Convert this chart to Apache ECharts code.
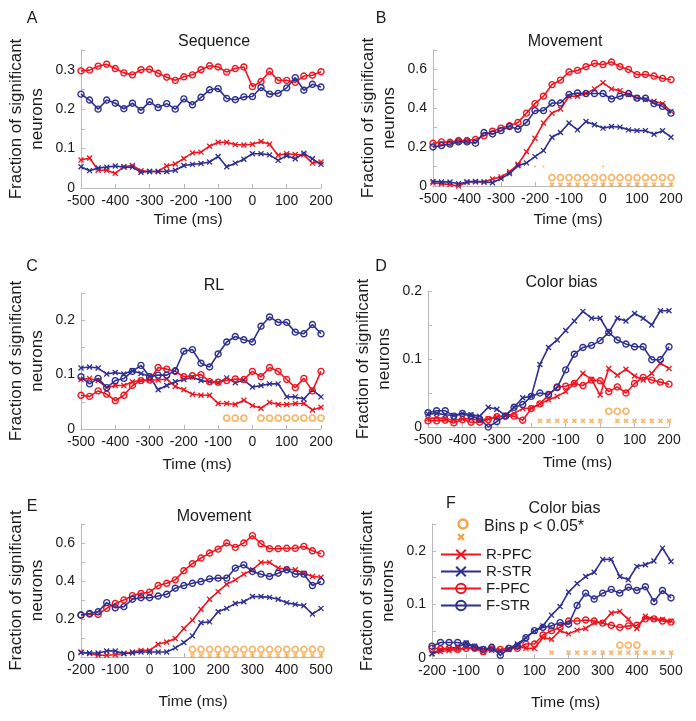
<!DOCTYPE html>
<html>
<head>
<meta charset="utf-8">
<script src="https://cdn.jsdelivr.net/npm/echarts@6/dist/echarts.min.js"></script>
<style>
  html, body { margin: 0; padding: 0; background: #fff; }
  #chart { width: 696px; height: 721px; }
</style>
</head>
<body>
<div id="chart"></div>
<script>
// time bins (ms)
const timeCue = [-500,-475,-450,-425,-400,-375,-350,-325,-300,-275,-250,-225,-200,-175,-150,-125,-100,-75,-50,-25,0,25,50,75,100,125,150,175,200];
const timeMove = [-200,-175,-150,-125,-100,-75,-50,-25,0,25,50,75,100,125,150,175,200,225,250,275,300,325,350,375,400,425,450,475,500];

// A - Sequence
const seqRPFC = [0.071,0.076,0.045,0.045,0.037,0.054,0.057,0.044,0.042,0.042,0.056,0.061,0.075,0.089,0.091,0.106,0.116,0.116,0.110,0.109,0.111,0.118,0.111,0.083,0.087,0.085,0.084,0.063,0.066];
const seqRSTR = [0.054,0.044,0.051,0.053,0.056,0.053,0.053,0.040,0.042,0.042,0.042,0.045,0.057,0.060,0.062,0.066,0.080,0.054,0.063,0.073,0.087,0.087,0.084,0.070,0.082,0.074,0.088,0.074,0.060];
const seqFPFC = [0.297,0.299,0.309,0.314,0.303,0.292,0.287,0.300,0.301,0.291,0.281,0.273,0.282,0.287,0.300,0.310,0.307,0.294,0.303,0.307,0.257,0.270,0.296,0.273,0.273,0.268,0.284,0.286,0.295];
const seqFSTR = [0.238,0.223,0.200,0.223,0.215,0.201,0.215,0.197,0.219,0.204,0.214,0.200,0.226,0.211,0.230,0.249,0.252,0.227,0.224,0.231,0.232,0.255,0.238,0.240,0.254,0.280,0.248,0.263,0.256];

// B - Movement (cue aligned)
const movRPFC = [0.016,0.012,0.007,0.000,0.021,0.021,0.021,0.036,0.047,0.073,0.112,0.176,0.246,0.324,0.375,0.396,0.462,0.462,0.476,0.500,0.531,0.500,0.491,0.471,0.453,0.445,0.436,0.424,0.384];
const movRSTR = [0.024,0.021,0.021,0.012,0.021,0.024,0.021,0.017,0.038,0.064,0.104,0.119,0.151,0.182,0.251,0.275,0.324,0.289,0.332,0.315,0.298,0.306,0.303,0.289,0.285,0.285,0.266,0.284,0.251];
const movFPFC = [0.220,0.227,0.225,0.234,0.234,0.240,0.258,0.282,0.298,0.310,0.327,0.375,0.424,0.462,0.522,0.545,0.587,0.595,0.614,0.631,0.625,0.638,0.614,0.600,0.573,0.574,0.566,0.554,0.547];
const movFSTR = [0.201,0.208,0.216,0.227,0.227,0.220,0.275,0.268,0.285,0.306,0.292,0.327,0.388,0.388,0.427,0.427,0.471,0.479,0.476,0.476,0.476,0.448,0.462,0.476,0.452,0.452,0.424,0.410,0.375];

// C - RL
const rlRPFC = [0.091,0.093,0.089,0.076,0.080,0.080,0.087,0.089,0.090,0.090,0.092,0.078,0.072,0.064,0.062,0.062,0.047,0.047,0.045,0.053,0.043,0.038,0.049,0.045,0.045,0.047,0.047,0.035,0.040];
const rlRSTR = [0.112,0.114,0.112,0.101,0.104,0.101,0.107,0.102,0.097,0.072,0.080,0.087,0.091,0.095,0.089,0.087,0.085,0.094,0.085,0.090,0.077,0.080,0.083,0.083,0.059,0.059,0.055,0.072,0.059];
const rlFPFC = [0.062,0.060,0.070,0.064,0.052,0.062,0.080,0.089,0.090,0.113,0.110,0.106,0.096,0.098,0.100,0.087,0.086,0.089,0.092,0.091,0.106,0.096,0.113,0.106,0.091,0.076,0.093,0.070,0.106];
const rlFSTR = [0.096,0.083,0.093,0.076,0.089,0.093,0.106,0.117,0.096,0.099,0.099,0.107,0.143,0.146,0.121,0.114,0.138,0.160,0.170,0.164,0.160,0.189,0.206,0.196,0.196,0.178,0.175,0.192,0.175];

// D - Color bias (cue aligned)
const colRPFC = [0.012,0.014,0.012,0.010,0.012,0.012,0.010,0.012,0.015,0.016,0.020,0.027,0.028,0.034,0.040,0.045,0.052,0.064,0.079,0.070,0.047,0.086,0.076,0.085,0.075,0.069,0.079,0.094,0.086];
const colRSTR = [0.019,0.020,0.018,0.017,0.020,0.018,0.016,0.029,0.026,0.017,0.029,0.043,0.045,0.092,0.117,0.128,0.142,0.156,0.170,0.160,0.160,0.139,0.160,0.156,0.167,0.160,0.150,0.171,0.171];
const colFPFC = [0.009,0.009,0.010,0.006,0.011,0.007,0.007,0.011,0.015,0.016,0.016,0.010,0.027,0.034,0.047,0.059,0.060,0.064,0.061,0.069,0.068,0.052,0.059,0.050,0.064,0.073,0.069,0.066,0.063];
const colFSTR = [0.021,0.024,0.024,0.016,0.020,0.016,0.012,0.000,0.008,0.016,0.029,0.033,0.045,0.050,0.048,0.058,0.084,0.107,0.117,0.120,0.127,0.139,0.128,0.122,0.118,0.118,0.099,0.099,0.118];

// E - Movement (movement aligned)
const mov2RPFC = [0.026,0.018,0.009,0.009,0.012,0.018,0.026,0.035,0.035,0.067,0.079,0.097,0.150,0.194,0.251,0.304,0.344,0.383,0.406,0.436,0.459,0.498,0.498,0.468,0.462,0.459,0.441,0.424,0.420];
const mov2RSTR = [0.023,0.021,0.021,0.032,0.032,0.018,0.021,0.026,0.026,0.026,0.026,0.048,0.076,0.111,0.180,0.185,0.238,0.256,0.282,0.291,0.318,0.318,0.314,0.304,0.286,0.277,0.270,0.226,0.256];
const mov2FPFC = [0.221,0.226,0.224,0.256,0.282,0.300,0.323,0.335,0.341,0.376,0.388,0.406,0.454,0.491,0.521,0.547,0.568,0.600,0.577,0.600,0.639,0.596,0.570,0.570,0.572,0.572,0.582,0.559,0.544];
const mov2FSTR = [0.221,0.229,0.238,0.286,0.259,0.265,0.304,0.312,0.312,0.321,0.330,0.362,0.376,0.388,0.397,0.411,0.415,0.415,0.468,0.485,0.450,0.436,0.424,0.441,0.459,0.436,0.436,0.376,0.397];

// F - Color bias (movement aligned)
const col2RPFC = [0.008,0.012,0.014,0.016,0.020,0.018,0.011,0.016,0.014,0.016,0.022,0.018,0.018,0.038,0.035,0.051,0.045,0.052,0.055,0.066,0.066,0.084,0.087,0.072,0.055,0.078,0.073,0.072,0.069];
const col2RSTR = [0.008,0.016,0.018,0.020,0.028,0.022,0.017,0.015,0.012,0.018,0.026,0.038,0.050,0.060,0.080,0.096,0.123,0.139,0.152,0.160,0.184,0.184,0.152,0.146,0.171,0.174,0.181,0.205,0.180];
const col2FPFC = [0.018,0.017,0.018,0.016,0.018,0.018,0.012,0.017,0.016,0.018,0.018,0.026,0.026,0.043,0.051,0.057,0.069,0.069,0.071,0.069,0.065,0.061,0.057,0.060,0.061,0.073,0.073,0.069,0.067];
const col2FSTR = [0.022,0.029,0.029,0.029,0.026,0.020,0.016,0.020,0.005,0.018,0.022,0.038,0.051,0.057,0.060,0.066,0.063,0.098,0.121,0.110,0.121,0.128,0.121,0.132,0.126,0.133,0.105,0.126,0.112];

// significant bins (p < 0.05): circles = F, crosses = R
const sigBCirc = [-150,-125,-100,-75,-50,-25,0,25,50,75,100,125,150,175,200];
const sigBCross = [-150,-125,-100,-75,-50,-25,0,25,50,75,100,125,150,175,200];
const sigBDot = [-200,-175,0];
const sigCCirc = [-75,-50,-25,25,50,75,100,125,150,175,200];
const sigCCross = [];
const sigDCirc = [25,50,75];
const sigDCross = [-175,-150,-125,-100,-75,-50,-25,0,50,75,100,125,150,175,200];
const sigECirc = [125,150,175,200,225,250,275,300,325,350,375,400,425,450,475,500];
const sigECross = [125,150,175,200,225,250,275,300,325,350,375,400,425,450,475,500];
const sigFCirc = [350,375,400];
const sigFCross = [150,200,225,250,275,300,325,350,375,400,425,450,475,500];

const RED = '#f0141e', BLUE = '#2d2f91', ORANGE = '#f5a547';
const XPATH = 'path://M0,0L10,10M10,0L0,10';
const names = ['R-PFC','R-STR','F-PFC','F-STR'];

const panels = [
  { letter:'A', title:'Sequence', time:timeCue, xMin:-500, xMax:200, yMax:0.35, yStep:0.05, lblStep:0.1,
    lines:[seqRPFC,seqRSTR,seqFPFC,seqFSTR], sig:[[],[],0.045,0.005],
    grid:{left:81,top:50,width:240,height:138}, titleY:38, letterXY:[27,15], nameGap:24, nameShift:-13 },
  { letter:'B', title:'Movement', time:timeCue, xMin:-500, xMax:200, yMax:0.7, yStep:0.1, lblStep:0.2,
    lines:[movRPFC,movRSTR,movFPFC,movFSTR], sig:[sigBCirc,sigBCross,0.043,0.007],
    grid:{left:433,top:50,width:238,height:136}, titleY:38, letterXY:[376,15], nameGap:26, nameShift:16 },
  { letter:'C', title:'RL', time:timeCue, xMin:-500, xMax:200, yMax:0.25, yStep:0.05, lblStep:0.1,
    lines:[rlRPFC,rlRSTR,rlFPFC,rlFSTR], sig:[sigCCirc,sigCCross,0.02,0.008],
    grid:{left:81,top:293,width:240,height:136}, titleY:282, letterXY:[27,263], nameGap:28, nameShift:-4 },
  { letter:'D', title:'Color bias', time:timeCue, xMin:-500, xMax:200, yMax:0.2, yStep:0.05, lblStep:0.1,
    lines:[colRPFC,colRSTR,colFPFC,colFSTR], sig:[sigDCirc,sigDCross,0.023,0.009],
    grid:{left:428,top:291,width:241,height:136}, titleY:279, letterXY:[376,263], nameGap:28, nameShift:29 },
  { letter:'E', title:'Movement', time:timeMove, xMin:-200, xMax:500, yMax:0.7, yStep:0.1, lblStep:0.2,
    lines:[mov2RPFC,mov2RSTR,mov2FPFC,mov2FSTR], sig:[sigECirc,sigECross,0.04,0.008],
    grid:{left:81,top:524,width:240,height:133}, titleY:513, letterXY:[27,503], nameGap:37, nameShift:-8 },
  { letter:'F', title:'Color bias', time:timeMove, xMin:-200, xMax:500, yMax:0.25, yStep:0.05, lblStep:0.1,
    lines:[col2RPFC,col2RSTR,col2FPFC,col2FSTR], sig:[sigFCirc,sigFCross,0.024,0.010],
    grid:{left:432,top:524,width:239,height:134}, titleY:505, letterXY:[446,500], nameGap:37, nameShift:14 }
];

const axisGray = '#b8b8b8';
const textCol = '#1a1a1a';

function zip(xs, ys) { return xs.map((x, i) => [x, ys[i]]); }

function lineStyleFor(k) {
  const color = (k % 2 === 0) ? RED : BLUE;
  const isCross = k < 2;
  return {
    symbol: isCross ? XPATH : 'circle',
    symbolSize: isCross ? 5 : 6,
    lineStyle: { color: color, width: 1.6 },
    itemStyle: { color: isCross ? color : 'rgba(255,255,255,0)', borderColor: color, borderWidth: isCross ? 1.3 : 1.4 }
  };
}

const grids = [], xAxes = [], yAxes = [], series = [], titles = [];

panels.forEach((p, i) => {
  grids.push(p.grid);
  const pad = p.nameShift >= 0 ? [0, 0, 0, 2 * p.nameShift] : [0, -2 * p.nameShift, 0, 0];
  xAxes.push({
    type:'value', gridIndex:i, min:p.xMin, max:p.xMax, interval:100,
    name:'Time (ms)', nameLocation:'middle', nameGap:p.nameGap,
    nameTextStyle:{ fontSize:15.5, color:textCol, fontFamily:'Liberation Sans', padding:pad },
    axisLine:{ show:true, onZero:false, lineStyle:{ color:axisGray, width:1 } },
    axisTick:{ show:true, inside:true, length:4, lineStyle:{ color:axisGray } },
    axisLabel:{ fontSize:14, color:textCol, fontFamily:'Liberation Sans', margin:6 },
    splitLine:{ show:false }
  });
  const lbl = p.lblStep;
  yAxes.push({
    type:'value', gridIndex:i, min:0, max:p.yMax, interval:p.yStep,
    name:'Fraction of significant\nneurons', nameLocation:'middle', nameGap:33,
    nameTextStyle:{ fontSize:17, lineHeight:21, color:textCol, fontFamily:'Liberation Sans' },
    axisLine:{ show:true, onZero:false, lineStyle:{ color:axisGray, width:1 } },
    axisTick:{ show:true, inside:true, length:4, lineStyle:{ color:axisGray } },
    axisLabel:{ fontSize:14, color:textCol, fontFamily:'Liberation Sans', margin:6,
      formatter: function (v) {
        const r = v / lbl;
        if (Math.abs(r - Math.round(r)) > 1e-6) return '';
        return v === 0 ? '0' : String(+v.toFixed(2));
      } },
    splitLine:{ show:false }
  });

  p.lines.forEach((ys, k) => {
    series.push(Object.assign({
      type:'line', name:names[k], xAxisIndex:i, yAxisIndex:i,
      data: zip(p.time, ys), showAllSymbol:true, silent:true, z: 3 + k
    }, lineStyleFor(k)));
  });

  const [circX, crossX, circY, crossY] = p.sig;
  series.push({
    type:'scatter', xAxisIndex:i, yAxisIndex:i, silent:true, z:6,
    data: circX.map(x => [x, circY]), symbol:'circle', symbolSize:6,
    itemStyle:{ color:'rgba(255,255,255,0)', borderColor:ORANGE, borderWidth:1.8 }
  });
  series.push({
    type:'scatter', xAxisIndex:i, yAxisIndex:i, silent:true, z:6,
    data: crossX.map(x => [x, crossY]), symbol:XPATH, symbolSize:4,
    itemStyle:{ color:ORANGE, borderColor:ORANGE, borderWidth:1.6 }
  });

  titles.push({ text:p.title, left:p.grid.left + p.grid.width / 2 + 8, top:p.titleY - 9, textAlign:'center',
    textStyle:{ fontSize:16, fontWeight:'normal', color:textCol, fontFamily:'Liberation Sans' } });
  titles.push({ text:p.letter, left:p.letterXY[0], top:p.letterXY[1] - 9, textAlign:'center',
    textStyle:{ fontSize:16, fontWeight:'normal', color:textCol, fontFamily:'Liberation Sans' } });
});

// tiny marks above significance rows in B
series.push({
  type:'scatter', xAxisIndex:1, yAxisIndex:1, silent:true, z:6,
  data: sigBDot.map(x => [x, 0.1]), symbol:'circle', symbolSize:2,
  itemStyle:{ color:ORANGE }
});

const chart = echarts.init(document.getElementById('chart'), null, { renderer:'canvas' });
chart.setOption({
  animation:false,
  backgroundColor:'#fff',
  title:titles,
  grid:grids,
  xAxis:xAxes,
  yAxis:yAxes,
  legend:{
    data:names, orient:'vertical', left:435, top:542,
    itemWidth:40, itemHeight:12, itemGap:2, selectedMode:false,
    textStyle:{ fontSize:15, color:textCol, fontFamily:'Liberation Sans' }
  },
  graphic:[
    { type:'circle', left:456, top:517, shape:{ r:4.5 }, style:{ fill:'none', stroke:ORANGE, lineWidth:2.4 } },
    { type:'polyline', shape:{ points:[[458,534],[464,540]] }, style:{ stroke:ORANGE, lineWidth:2.4 } },
    { type:'polyline', shape:{ points:[[464,534],[458,540]] }, style:{ stroke:ORANGE, lineWidth:2.4 } },
    { type:'text', left:484, top:519, style:{ text:'Bins p < 0.05*', fontSize:16, fill:textCol, fontFamily:'Liberation Sans' } }
  ],
  series:series
});
</script>
</body>
</html>
